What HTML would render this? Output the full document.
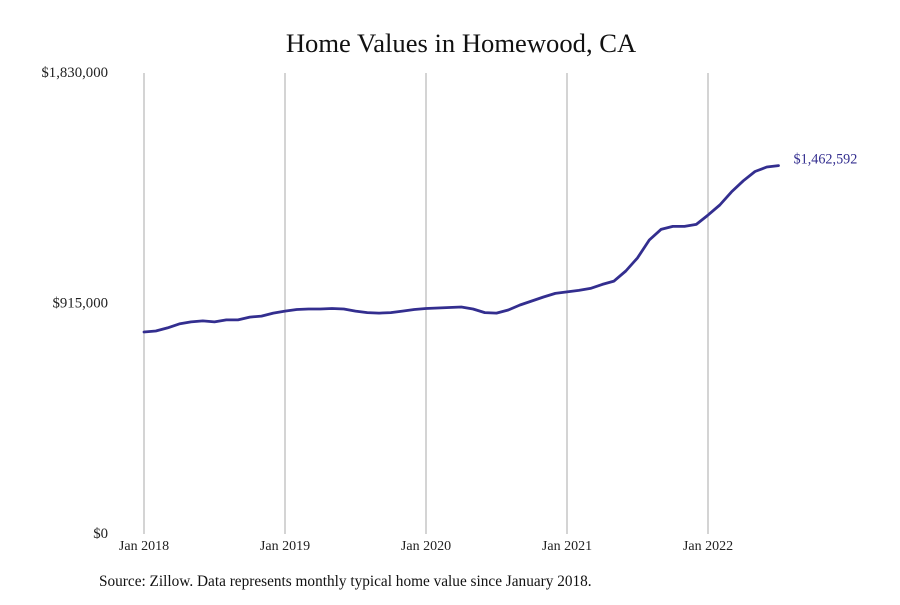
<!DOCTYPE html>
<html><head><meta charset="utf-8"><style>
body{margin:0;background:#fff;}
svg text{font-family:"Liberation Serif",serif;}
</style></head><body>
<svg id="chart" width="900" height="600" xmlns="http://www.w3.org/2000/svg">
<text x="461" y="52" text-anchor="middle" font-size="26.6" fill="#111">Home Values in Homewood, CA</text>
<g id="grid"></g><g id="axes"></g><g id="series"></g>
<text x="99" y="586" font-size="15.3" fill="#111">Source: Zillow. Data represents monthly typical home value since January 2018.</text>
</svg>
<script>
const values=[802,806,818,834,842,846,842,850,850,861,865,877,885,891,893,893,895,893,885,879,877,879,885,891,895,897,899,901,893,879,877,889,909,925,941,955,961,967,975,991,1004,1044,1096,1167,1209,1221,1221,1229,1266,1306,1358,1402,1439,1457,1462.592];
const xTickLabels=["Jan 2018","Jan 2019","Jan 2020","Jan 2021","Jan 2022"];
const yTicks=[0,915,1830];
const yTickLabels=["$0","$915,000","$1,830,000"];
const lastLabel="$1,462,592";
const NS="http://www.w3.org/2000/svg";
const x=i=>144+i*141/12;
const y=v=>534-v*(461/1830);
function mk(t,a,p){const e=document.createElementNS(NS,t);for(const k in a)e.setAttribute(k,a[k]);p.appendChild(e);return e;}
const grid=document.getElementById('grid'),axes=document.getElementById('axes'),series=document.getElementById('series');
xTickLabels.forEach((l,i)=>{
 const g=mk('line',{x1:x(i*12),x2:x(i*12),y1:73,y2:534,stroke:'#aaa','stroke-width':1},grid);
 
 
 const t=mk('text',{x:x(i*12),y:550,'text-anchor':'middle','font-size':14,fill:'#222'},axes);
 t.textContent=l;
 
 
});
yTicks.forEach((v,i)=>{
 const t=mk('text',{x:108,y:y(v)+4,'text-anchor':'end','font-size':14.8,fill:'#222'},axes);
 t.textContent=yTickLabels[i];
 
 
});
const d=values.map((v,i)=>(i?'L':'M')+x(i).toFixed(1)+' '+y(v).toFixed(1)).join(' ');
const p=mk('path',{d:d,fill:'none',stroke:'#332e8f','stroke-width':2.8,'stroke-linejoin':'round','stroke-linecap':'round'},series);


const n=values.length-1;
const lt=mk('text',{x:x(n)+15,y:y(values[n])-2,'font-size':14.2,fill:'#332e8f'},series);
lt.textContent=lastLabel;


</script>
</body></html>
